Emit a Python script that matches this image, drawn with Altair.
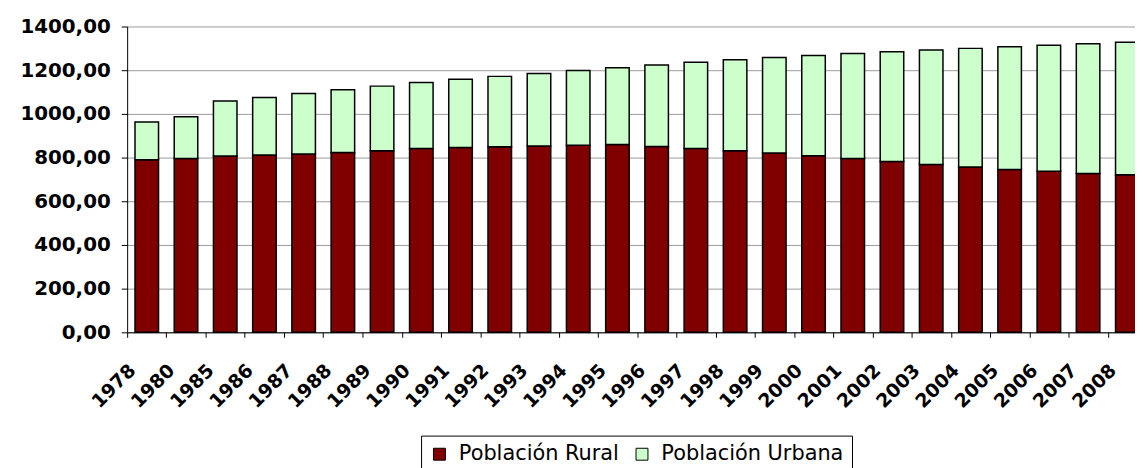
import altair as alt
import pandas as pd

years = ["1978", "1980", "1985", "1986", "1987", "1988", "1989", "1990", "1991",
         "1992", "1993", "1994", "1995", "1996", "1997", "1998", "1999", "2000",
         "2001", "2002", "2003", "2004", "2005", "2006", "2007", "2008"]
rural = [790.14, 795.65, 807.57, 811.41, 816.26, 823.65, 831.64, 841.38, 846.20,
         849.96, 853.44, 856.81, 859.47, 850.85, 841.77, 831.53, 820.38, 808.37,
         795.63, 782.41, 768.51, 757.05, 745.44, 737.42, 727.50, 721.35]
urban = [172.45, 191.40, 250.94, 263.66, 276.74, 286.61, 295.40, 301.95, 312.03,
         321.75, 331.73, 341.69, 351.74, 373.04, 394.49, 416.08, 437.48, 459.06,
         480.64, 502.12, 523.76, 542.83, 562.12, 577.06, 593.79, 606.67]
series = ["Población Rural", "Población Urbana"]
colors = ["#800000", "#CCFFCC"]
y_ticks = [0, 200, 400, 600, 800, 1000, 1200, 1400]

rows = []
for i, yr in enumerate(years):
    rows.append({"year": yr, "serie": series[0], "value": rural[i], "ord": 0})
    rows.append({"year": yr, "serie": series[1], "value": urban[i], "ord": 1})
df = pd.DataFrame(rows)

FONT = "DejaVu Sans"

chart = alt.Chart(df).mark_bar(stroke="black", strokeWidth=1.5).encode(
    x=alt.X(
        "year:N",
        sort=years,
        scale=alt.Scale(range=[0, 1027], paddingInner=0.4, paddingOuter=0.2),
        axis=alt.Axis(
            title=None,
            labelAngle=-45,
            labelAlign="right",
            labelBaseline="middle",
            bandPosition=0,
            tickOffset=-7.9,
            labelOffset=-7,
            labelPadding=30,
            tickSize=5,
            tickColor="black",
            domainColor="black",
            labelFont=FONT,
            labelFontWeight="bold",
            labelFontSize=19,
            labelColor="black",
            grid=False,
            labelOverlap=False,
        ),
    ),
    y=alt.Y(
        "value:Q",
        stack="zero",
        scale=alt.Scale(domain=[0, 1400], nice=False),
        axis=alt.Axis(
            title=None,
            values=y_ticks,
            labelExpr="replace(format(datum.value, '.2f'), '.', ',')",
            tickSize=6,
            tickColor="black",
            domainColor="black",
            labelPadding=11,
            labelFont=FONT,
            labelFontWeight="bold",
            labelFontSize=20,
            labelColor="black",
            grid=True,
            gridColor="#9a9a9a",
            gridWidth=1,
        ),
    ),
    color=alt.Color(
        "serie:N",
        scale=alt.Scale(domain=series, range=colors),
        legend=alt.Legend(
            title=None,
            orient="none",
            legendX=296,
            legendY=412,
            direction="horizontal",
            strokeColor="black",
            fillColor="white",
            padding=8,
            cornerRadius=0,
            symbolType="square",
            symbolSize=144,
            symbolStrokeColor="black",
            symbolStrokeWidth=1,
            symbolOpacity=1,
            labelFont=FONT,
            labelFontSize=21,
            labelColor="black",
            labelOffset=9,
            labelLimit=400,
            columnPadding=12,
        ),
    ),
    order=alt.Order("ord:Q"),
).properties(
    width=1015,
    height=308,
    autosize=alt.AutoSizeParams(type="none"),
    padding={"left": 120, "top": 17, "right": 0, "bottom": 135},
    background="white",
).configure_view(stroke=None)

chart.save("out.html", embed_options={"renderer": "svg", "actions": False})
